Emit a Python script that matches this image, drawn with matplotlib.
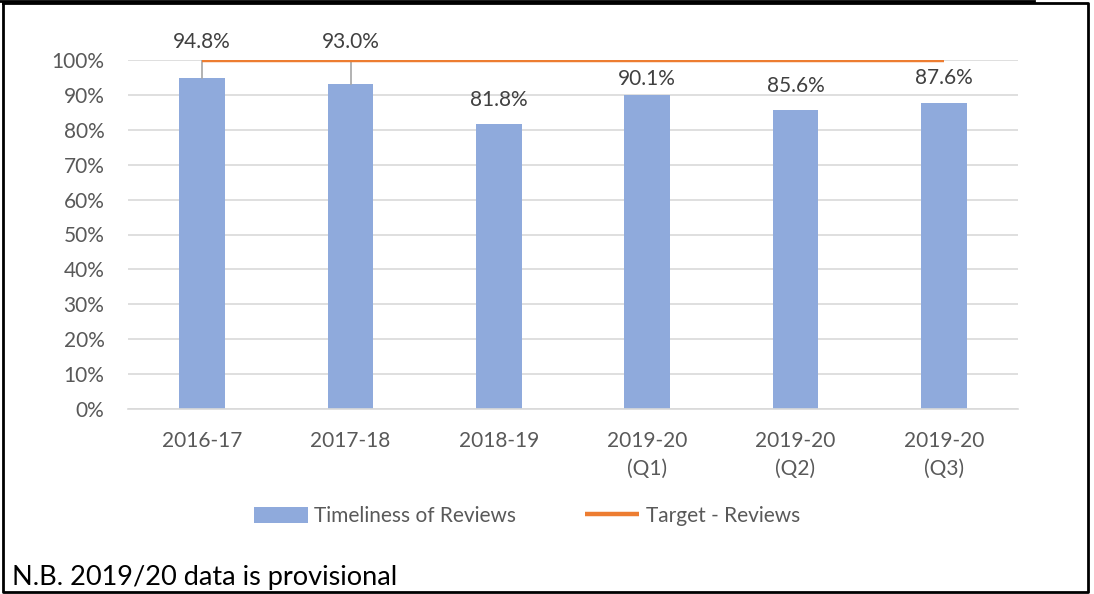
import matplotlib.pyplot as plt
import numpy as np

# data
categories = ['2016-17', '2017-18', '2018-19', '2019-20\n(Q1)', '2019-20\n(Q2)', '2019-20\n(Q3)']
timeliness = [0.948, 0.930, 0.818, 0.901, 0.856, 0.876]
target = [1.0, 1.0, 1.0, 1.0, 1.0, 1.0]
labels = ['94.8%', '93.0%', '81.8%', '90.1%', '85.6%', '87.6%']

plt.rcParams['font.family'] = ['Lato', 'DejaVu Sans']
grey = '#595959'
fs = 15

fig = plt.figure(figsize=(10.94, 5.94), dpi=100)
ax = fig.add_axes([128 / 1094, 1 - 409 / 594, 890 / 1094, 349 / 594])

x = np.arange(len(categories))
bars = ax.bar(x, timeliness, width=0.31, color='#8faadc', zorder=2, label='Timeliness of Reviews')
line, = ax.plot(x, target, color='#ed7d31', lw=3.2, zorder=4, solid_capstyle='butt',
                label='Target - Reviews')

# label offsets (pixels above bar top); first two sit above the target line with leaders
offsets = [None, None, 24, 16, 24, 25]
for i, (v, lab) in enumerate(zip(timeliness, labels)):
    if offsets[i] is None:
        ax.annotate(lab, (x[i], 1.0), xytext=(0, 18), textcoords='offset pixels',
                    ha='center', va='center', fontsize=fs, color='#404040')
        ax.plot([x[i], x[i]], [v, 1.0], color='#a6a6a6', lw=1.2, zorder=3)
    else:
        ax.annotate(lab, (x[i], v), xytext=(0, offsets[i]), textcoords='offset pixels',
                    ha='center', va='center', fontsize=fs, color='#404040')

ax.set_xlim(-0.5, len(categories) - 0.5)
ax.set_ylim(0, 1.0)
ax.set_yticks(np.arange(0, 1.01, 0.1))
ax.set_yticklabels([f'{int(round(t * 100))}%' for t in np.arange(0, 1.01, 0.1)])
ax.set_xticks(x)
ax.set_xticklabels(categories, linespacing=1.5)
ax.tick_params(axis='both', length=0, labelsize=fs, labelcolor=grey)
ax.tick_params(axis='y', pad=17)
ax.tick_params(axis='x', pad=16)
ax.yaxis.grid(True, color='#d9d9d9', lw=1.2, zorder=0)
ax.set_axisbelow(True)
for s in ['top', 'right', 'left']:
    ax.spines[s].set_visible(False)
ax.spines['bottom'].set_color('#d9d9d9')
ax.spines['bottom'].set_linewidth(1.2)

leg = fig.legend([bars, line], ['Timeliness of Reviews', 'Target - Reviews'],
                 loc='center', bbox_to_anchor=(527 / 1094, 1 - 516 / 594), ncol=2,
                 frameon=False, fontsize=fs, handlelength=2.6, handleheight=0.8,
                 columnspacing=3.3, handletextpad=0.3)
for t in leg.get_texts():
    t.set_color(grey)

fig.text(12 / 1094, 1 - 577 / 594, 'N.B. 2019/20 data is provisional', fontsize=19.5,
         color='black', va='center', ha='left')

# page borders
fig.add_artist(plt.Line2D([0, 1034 / 1094], [1 - 1 / 594] * 2, color='black', lw=2))
fig.add_artist(plt.Line2D([3 / 1094, 1088 / 1094, 1088 / 1094, 3 / 1094, 3 / 1094],
                          [1 - 3 / 594, 1 - 3 / 594, 1 - 592 / 594, 1 - 592 / 594, 1 - 3 / 594],
                          color='black', lw=2))

fig.savefig('out.png', dpi=100)
